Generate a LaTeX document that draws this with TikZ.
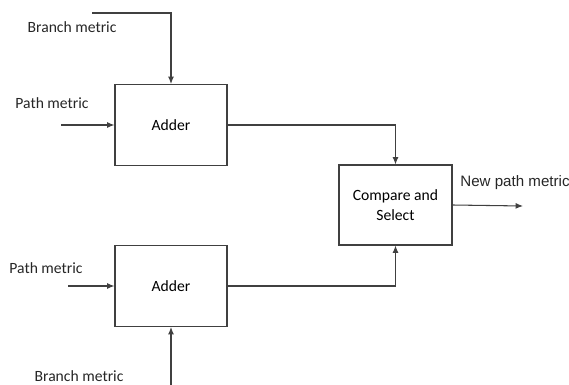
\documentclass[tikz,border=0pt]{standalone}
\usepackage{fontspec}
\setmainfont{Carlito}
\newfontfamily\arialfont{Liberation Sans}
\usepackage{tikz}
\usetikzlibrary{arrows.meta}

\begin{document}
\begin{tikzpicture}[x=0.02cm,y=-0.02cm,
  line width=0.6pt,
  blk/.style={draw=black!75, line width=0.6pt, minimum width=2.24cm, minimum height=1.62cm, font=\fontsize{8.9}{10.5}\selectfont, align=center},
  lbl/.style={inner sep=0pt, font=\fontsize{8.9}{10.5}\selectfont, text=black!85},
  sig/.style={draw=black!75, -{Latex[length=4.2pt,width=3.4pt]}}]
\useasboundingbox (0,0) rectangle (569,385);
% Blocks
\node[blk] (add1) at (171,125) {Adder};
\node[blk] (add2) at (171,286) {Adder};
\node[blk, minimum width=2.26cm, minimum height=1.6cm] (cmp) at (395.5,205) {Compare and\\[1pt]Select};
% Labels
\node[lbl] (bm1) at (72,27) {Branch metric};
\node[lbl] (pm1) at (52,103) {Path metric};
\node[lbl] (pm2) at (46,268) {Path metric};
\node[lbl] (bm2) at (79,376) {Branch metric};
\node[lbl, font=\arialfont\fontsize{8.6}{10}\selectfont] (npm) at (515,183) {New path metric};
% Free ends
\coordinate (bm1s) at (92,13);
\coordinate (pm1s) at (61,125);
\coordinate (pm2s) at (68,286);
\coordinate (bm2s) at (171,385);
\coordinate (npme) at (523,206);
% Inputs
\draw[sig] (bm1s) -| (add1.north);
\draw[sig] (pm1s) -- (add1.west);
\draw[sig] (pm2s) -- (add2.west);
\draw[sig] (bm2s) -- (add2.south);
% Adder outputs to compare
\draw[sig] (add1.east) -| (cmp.north);
\draw[sig] (add2.east) -| (cmp.south);
% Output
\draw[sig] (cmp.east) -- (npme);
\end{tikzpicture}
\end{document}
